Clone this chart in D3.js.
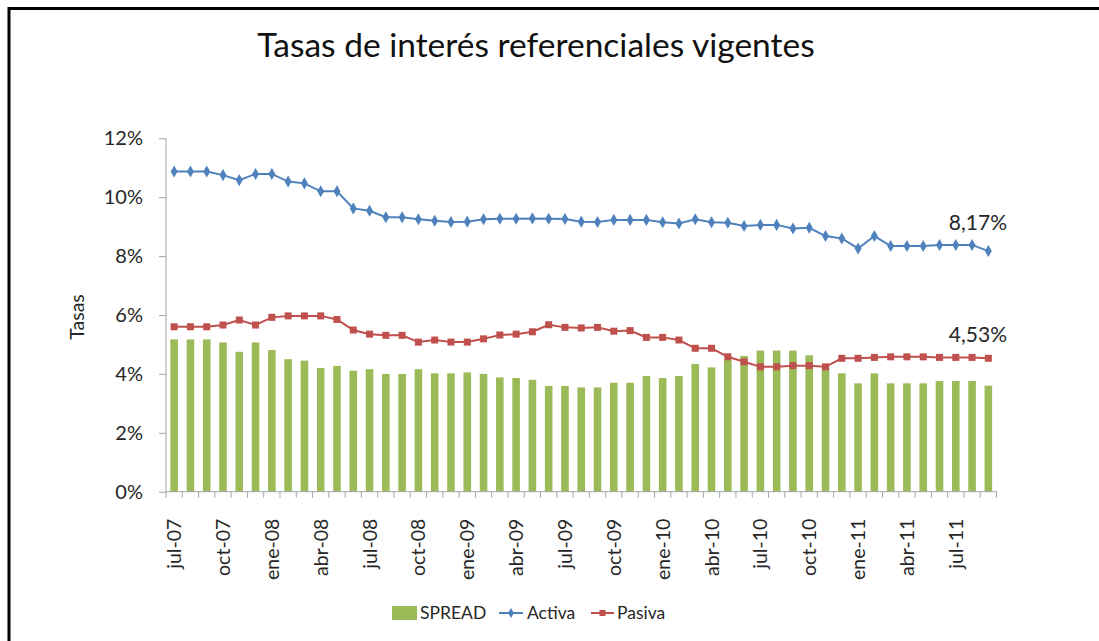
<!DOCTYPE html>
<head>
  <meta charset="utf-8">
  <script src="https://d3js.org/d3.v7.min.js"></script>
  <style>
    body { margin:0; background:#fff; }
    text { font-family: Lato, "Open Sans", sans-serif; fill:#262626; }
  </style>
</head>

<body>
  <svg width="1099" height="641"></svg>
  <script>

    // months jul-07 .. sep-11
    var meses = ["ene","feb","mar","abr","may","jun","jul","ago","sep","oct","nov","dic"];
    var categories = [];
    for (var k = 0; k < 51; k++) {
      var m = (6 + k) % 12, y = 7 + Math.floor((6 + k) / 12);
      categories.push(meses[m] + "-" + (y < 10 ? "0" + y : y));
    }
    var tickLabels = ["jul-07","oct-07","ene-08","abr-08","jul-08","oct-08","ene-09","abr-09","jul-09",
                      "oct-09","ene-10","abr-10","jul-10","oct-10","ene-11","abr-11","jul-11"];

    var activa = [10.87,10.87,10.87,10.75,10.58,10.79,10.79,10.53,10.47,10.20,10.20,9.62,9.54,9.32,9.32,9.25,9.20,9.16,
                  9.17,9.25,9.27,9.27,9.28,9.27,9.26,9.17,9.16,9.23,9.23,9.23,9.15,9.11,9.25,9.15,9.13,
                  9.02,9.06,9.06,8.94,8.96,8.68,8.60,8.26,8.68,8.34,8.34,8.34,8.38,8.38,8.38,8.17];
    var pasiva = [5.60,5.60,5.60,5.66,5.83,5.66,5.92,5.97,5.97,5.97,5.85,5.49,5.35,5.31,5.31,5.08,5.15,5.08,
                  5.08,5.19,5.32,5.35,5.43,5.67,5.58,5.56,5.58,5.45,5.47,5.24,5.24,5.15,4.87,4.87,4.58,
                  4.41,4.24,4.24,4.28,4.28,4.24,4.53,4.53,4.56,4.58,4.58,4.58,4.56,4.56,4.56,4.53];
    var spread = [5.17,5.17,5.17,5.07,4.75,5.07,4.81,4.50,4.45,4.20,4.27,4.11,4.16,4.00,4.00,4.16,4.02,4.02,
                  4.05,4.00,3.88,3.86,3.80,3.59,3.59,3.54,3.54,3.70,3.70,3.93,3.86,3.93,4.34,4.22,4.47,
                  4.61,4.79,4.79,4.79,4.63,4.24,4.02,3.68,4.02,3.68,3.68,3.68,3.76,3.76,3.76,3.60];
    var yTicks = [0, 2, 4, 6, 8, 10, 12];

    var svg = d3.select("svg");

    // frame (top and left edges show in the crop)
    svg.append("path").attr("d", "M9,641V8.5H1099").attr("fill","none").attr("stroke","#000").attr("stroke-width",3);

    var xStep = d3.scaleBand().domain(categories).range([166, 996.5]);
    var yS = d3.scaleLinear().domain([0, 12]).range([491.7, 138.3]);

    var cx = function(i) { return xStep(categories[i]) + xStep.bandwidth() / 2; };

    svg.append("text").attr("x", 536).attr("y", 57).attr("text-anchor","middle")
      .style("font-size","33.5px").style("fill","#111")
      .text("Tasas de interés referenciales vigentes");

    // bars
    svg.append("g").selectAll("rect").data(spread).enter().append("rect")
      .attr("x", function(d, i) { return cx(i) - 3.8; })
      .attr("width", 7.6)
      .attr("y", function(d) { return yS(d); })
      .attr("height", function(d) { return yS(0) - yS(d); })
      .attr("fill", "#9bbb59");

    // y axis
    var gy = svg.append("g").attr("transform","translate(166,0)")
      .call(d3.axisLeft(yS).tickValues(yTicks).tickSize(7).tickPadding(16).tickFormat(function(d){ return d + "%"; }));
    gy.selectAll("path, line").attr("stroke","#a6a6a6");
    gy.select(".domain").attr("d","M0,138.3V491.7");
    gy.selectAll("text").style("font-size","20px").style("font-family","Lato, sans-serif").attr("fill","#262626");

    // x axis
    var gx = svg.append("g").attr("transform","translate(0,491.7)");
    gx.append("line").attr("x1",166).attr("x2",996.5).attr("stroke","#a6a6a6");
    gx.selectAll(".tk").data(d3.range(52)).enter().append("line")
      .attr("x1", function(d){ return d < 51 ? xStep(categories[d]) : 996.5; })
      .attr("x2", function(d){ return d < 51 ? xStep(categories[d]) : 996.5; })
      .attr("y1", 0).attr("y2", 6).attr("stroke","#a6a6a6");
    gx.selectAll(".lb").data(tickLabels).enter().append("text")
      .attr("transform", function(d){ return "translate(" + (cx(categories.indexOf(d)) + 7) + ",27) rotate(-90)"; })
      .attr("text-anchor","end")
      .style("font-size","19.5px")
      .text(function(d){ return d; });

    svg.append("text").attr("transform","translate(84,317) rotate(-90)").attr("text-anchor","middle")
      .style("font-size","19.5px").text("Tasas");

    var line = d3.line().x(function(d, i){ return cx(i); }).y(function(d){ return yS(d); });

    svg.append("path").attr("d", line(activa)).attr("fill","none").attr("stroke","#4f81bd").attr("stroke-width",2);
    svg.append("g").selectAll("path").data(activa).enter().append("path")
      .attr("d", d3.symbol(d3.symbolDiamond, 42))
      .attr("transform", function(d, i){ return "translate(" + cx(i) + "," + yS(d) + ")"; })
      .attr("fill","#4f81bd");

    svg.append("path").attr("d", line(pasiva)).attr("fill","none").attr("stroke","#c0504d").attr("stroke-width",2);
    svg.append("g").selectAll("rect").data(pasiva).enter().append("rect")
      .attr("x", function(d, i){ return cx(i) - 3.5; })
      .attr("y", function(d){ return yS(d) - 3.5; })
      .attr("width", 7).attr("height", 7)
      .attr("fill","#c0504d");

    // end labels
    svg.append("text").attr("x", 1007).attr("y", 230).attr("text-anchor","end").style("font-size","21px")
      .text("8,17%");
    svg.append("text").attr("x", 1007).attr("y", 342).attr("text-anchor","end").style("font-size","21px")
      .text("4,53%");

    // legend
    var lg = svg.append("g").style("font-size","17.5px");
    lg.append("rect").attr("x",392).attr("y",606).attr("width",25).attr("height",14).attr("fill","#9bbb59");
    lg.append("text").attr("x",420).attr("y",619).text("SPREAD");
    lg.append("line").attr("x1",499).attr("x2",523).attr("y1",613).attr("y2",613).attr("stroke","#4f81bd").attr("stroke-width",2);
    lg.append("path").attr("d", d3.symbol(d3.symbolDiamond, 30)).attr("transform","translate(511,613)").attr("fill","#4f81bd");
    lg.append("text").attr("x",527).attr("y",619).text("Activa");
    lg.append("line").attr("x1",591).attr("x2",614).attr("y1",613).attr("y2",613).attr("stroke","#c0504d").attr("stroke-width",2);
    lg.append("rect").attr("x",599.5).attr("y",610).attr("width",6).attr("height",6).attr("fill","#c0504d");
    lg.append("text").attr("x",617).attr("y",619).text("Pasiva");

  </script>
</body>
